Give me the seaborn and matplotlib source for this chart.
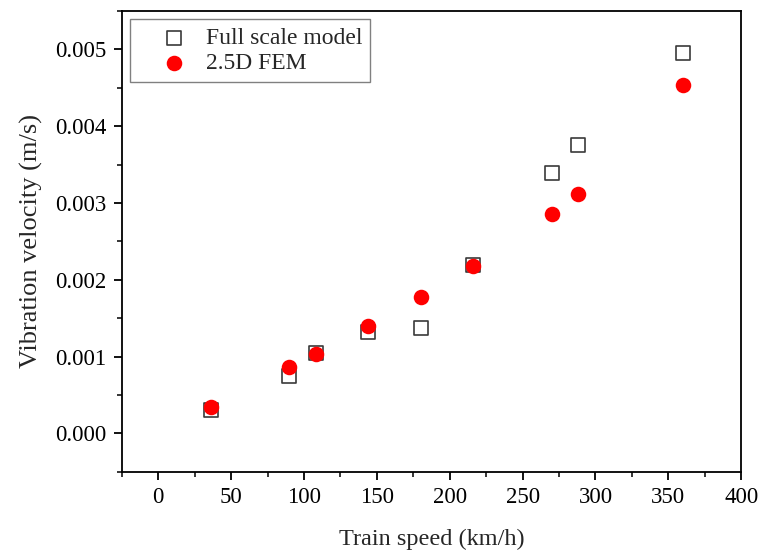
import pandas as pd
import seaborn as sns
import matplotlib.pyplot as plt
from matplotlib.ticker import MultipleLocator, FormatStrFormatter

speed = [36, 90, 108, 144, 180, 216, 270, 288, 360]
full_scale = [0.00030, 0.00075, 0.00105, 0.00132, 0.00137, 0.00219, 0.00339, 0.00376, 0.00495]
fem_25d = [0.00034, 0.00086, 0.00103, 0.00140, 0.00178, 0.00218, 0.00286, 0.00312, 0.00454]

df = pd.DataFrame({'speed': speed, 'full': full_scale, 'fem': fem_25d})

sns.set_style('ticks')
plt.rcParams['font.family'] = ['Liberation Serif', 'DejaVu Serif']

fig = plt.figure(figsize=(7.61, 5.5), dpi=100)
ax = fig.add_axes([0.160, 0.142, 0.814, 0.838])

sns.scatterplot(data=df, x='speed', y='full', marker='s', s=90, facecolor='white',
                edgecolor='#3a3a3a', linewidth=1.2, label='Full scale model', ax=ax, zorder=2)
sns.scatterplot(data=df, x='speed', y='fem', marker='o', s=125, color='#ff0000',
                edgecolor='#ff0000', linewidth=0, label='2.5D FEM', ax=ax, zorder=3)

ax.set_xlim(-25, 400)
ax.set_ylim(-0.0005, 0.0055)
ax.xaxis.set_major_locator(MultipleLocator(50))
ax.xaxis.set_minor_locator(MultipleLocator(25))
ax.yaxis.set_major_locator(MultipleLocator(0.001))
ax.yaxis.set_minor_locator(MultipleLocator(0.0005))
ax.yaxis.set_major_formatter(FormatStrFormatter('%.3f'))

for sp in ax.spines.values():
    sp.set_linewidth(1.3)
    sp.set_color('black')
ax.tick_params(which='major', direction='out', length=6, width=1.3, pad=5,
               labelsize=16.5, colors='black')
ax.tick_params(which='minor', direction='out', length=3.5, width=1.3)

ax.set_xlabel('Train speed (km/h)', fontsize=17.5, labelpad=15)
ax.set_ylabel('Vibration velocity (m/s)', fontsize=19, labelpad=9)

# legend: marker sits well inside the box, text close to the marker
leg = ax.legend(loc='upper left', fontsize=17, frameon=True, fancybox=False,
                borderaxespad=0.35, handletextpad=-0.15, handlelength=3.0,
                borderpad=0.35, labelspacing=0.15)
leg.get_frame().set_edgecolor('#606060')
leg.get_frame().set_linewidth(1.0)

plt.savefig('out.png', dpi=100)
plt.close()
